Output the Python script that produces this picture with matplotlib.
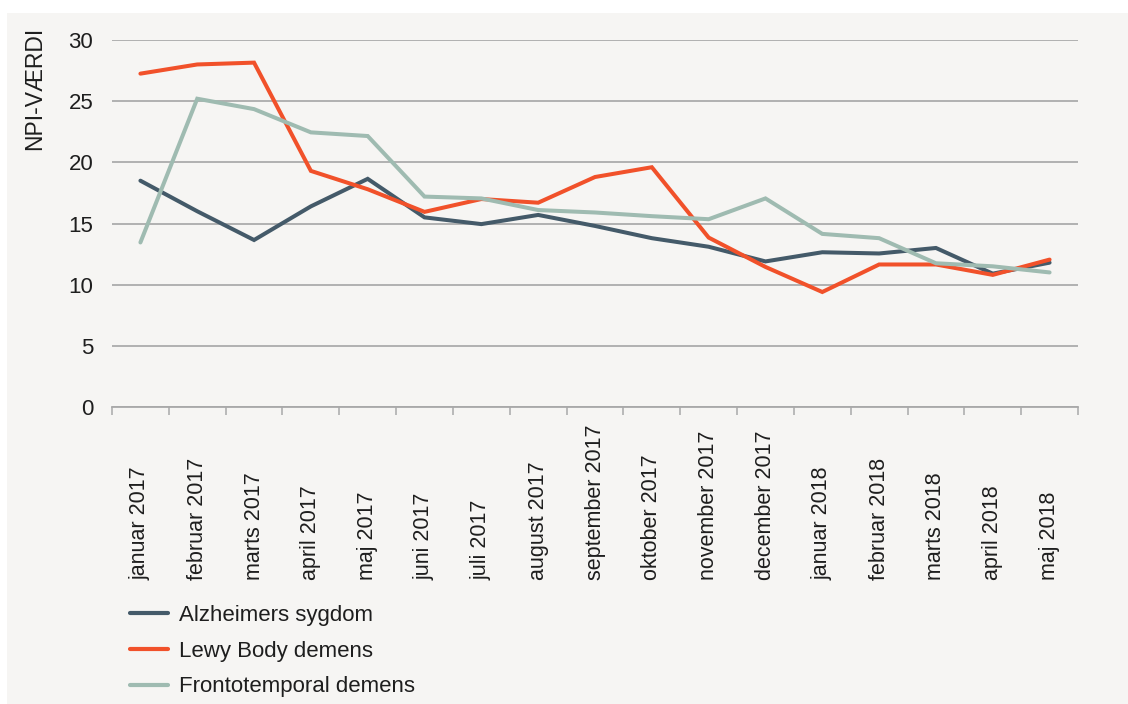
import matplotlib
matplotlib.use("Agg")
import matplotlib.pyplot as plt
from matplotlib.patches import Rectangle
import numpy as np

months = ["januar 2017", "februar 2017", "marts 2017", "april 2017", "maj 2017",
          "juni 2017", "juli 2017", "august 2017", "september 2017", "oktober 2017",
          "november 2017", "december 2017", "januar 2018", "februar 2018",
          "marts 2018", "april 2018", "maj 2018"]

alzheimers = [18.5, 16.0, 13.65, 16.4, 18.65, 15.5, 14.95, 15.7, 14.8, 13.8,
              13.1, 11.9, 12.65, 12.55, 13.0, 10.9, 11.8]
lewy = [27.25, 28.0, 28.15, 19.3, 17.8, 15.95, 17.0, 16.7, 18.8, 19.6,
        13.85, 11.45, 9.4, 11.65, 11.65, 10.8, 12.05]
fronto = [13.45, 25.2, 24.35, 22.45, 22.15, 17.2, 17.05, 16.1, 15.9, 15.6,
          15.35, 17.05, 14.15, 13.8, 11.75, 11.5, 11.0]

series_names = ["Alzheimers sygdom", "Lewy Body demens", "Frontotemporal demens"]
colors = ["#445a69", "#f1512a", "#9fbbb1"]

plt.rcParams['font.family'] = ['Liberation Sans', 'DejaVu Sans']

W, H = 1128, 704
fig = plt.figure(figsize=(W / 100, H / 100), dpi=100)
fig.patch.set_facecolor("white")
fig.patches.append(Rectangle((7 / W, 0), 1 - 7 / W, 1 - 13 / H, transform=fig.transFigure,
                             facecolor="#f6f5f3", edgecolor="none", zorder=-10))

ax_left, ax_right = 112 / W, 1078 / W
ax_top, ax_bottom = 1 - 40 / H, 1 - 407 / H
ax = fig.add_axes([ax_left, ax_bottom, ax_right - ax_left, ax_top - ax_bottom])
ax.set_facecolor("none")

x = np.arange(len(months))
for vals, name, c in zip([alzheimers, lewy, fronto], series_names, colors):
    ax.plot(x, vals, color=c, lw=2.9, label=name, solid_capstyle="round",
            solid_joinstyle="miter", zorder=3)

ax.set_xlim(-0.5, len(months) - 0.5)
ax.set_ylim(0, 30)
ax.set_yticks(range(0, 31, 5))
ax.yaxis.grid(True, color="#ababab", lw=1.3, zorder=1)
ax.set_axisbelow(True)
for s in ["top", "right", "left"]:
    ax.spines[s].set_visible(False)
ax.spines["bottom"].set_color("#a9a9a9")
ax.spines["bottom"].set_linewidth(1.3)

ax.tick_params(axis="y", length=0, pad=13.5, labelsize=16, labelcolor="#1e1e1e")

# boundary ticks (major), labels at centres (minor)
ax.set_xticks(np.arange(-0.5, len(months), 1.0))
ax.set_xticklabels([])
ax.tick_params(axis="x", which="major", length=6, width=1.1, color="#a9a9a9", direction="out")
ax.set_xticks(x, minor=True)
ax.set_xticklabels(months, minor=True, rotation=90, va="bottom", ha="center")
ax.tick_params(axis="x", which="minor", length=0, pad=124.5, labelsize=15.5, labelcolor="#1e1e1e")

fig.text(35 / W, 1 - 27 / H, "NPI-VÆRDI", rotation=90, ha="center", va="top",
         fontsize=16.5, color="#1e1e1e")

leg = fig.legend(loc="upper left", bbox_to_anchor=(130 / W, 1 - 605 / H), frameon=False,
                 fontsize=16, handlelength=1.72, handletextpad=0.5, labelspacing=0.66,
                 borderpad=0, borderaxespad=0)
for t in leg.get_texts():
    t.set_color("#1e1e1e")
for l in leg.get_lines():
    l.set_linewidth(3.0)

fig.savefig("out.png", dpi=100, facecolor=fig.get_facecolor())
